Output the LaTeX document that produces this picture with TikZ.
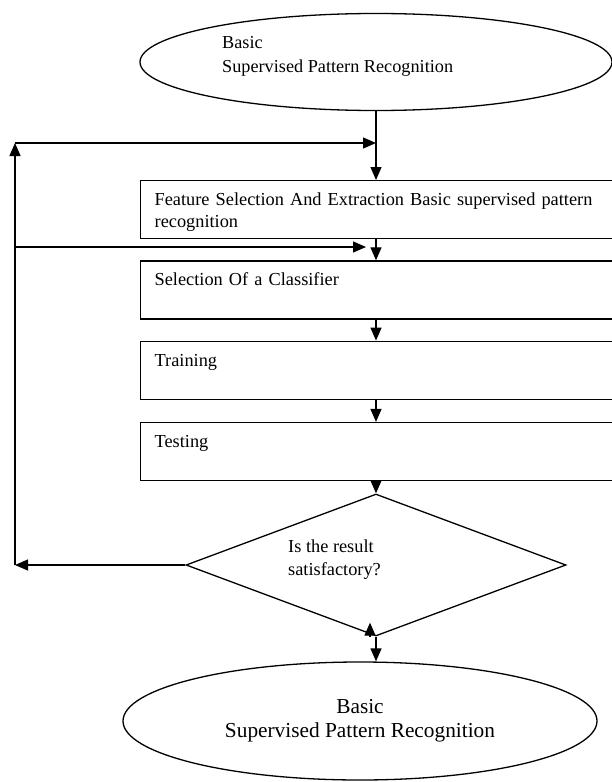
\documentclass[tikz,border=0pt]{standalone}
\usepackage{fontspec}
\setmainfont{Liberation Serif}
\usetikzlibrary{shapes.geometric,arrows.meta,positioning,calc}

\begin{document}
\begin{tikzpicture}[
    x=1bp, y=-1bp,
    every node/.style={font=\fontsize{18.4}{22}\selectfont},
    terminal/.style={ellipse, draw=black, line width=1.3bp, inner sep=0pt},
    process/.style={rectangle, draw=black, line width=1.3bp, anchor=north west, text width=472bp, align=left, inner xsep=14bp, inner ysep=0pt, text height=25bp, text depth=33bp},
    decision/.style={diamond, draw=black, line width=1.3bp, minimum width=380bp, minimum height=142bp, inner sep=0pt},
    arrow/.style={line width=1.3bp, -{Triangle[length=13bp,width=11bp]}}
]
    \useasboundingbox (0,0) rectangle (612,782);
    \clip (0,0) rectangle (612,782);

    % Start
    \node[terminal, minimum width=472bp, minimum height=97bp] (start) at (376,62) {};
    \node[anchor=west, align=left, inner sep=0pt, font=\fontsize{18.3}{24}\selectfont] (starttext) at (222,56) {Basic\\Supervised Pattern Recognition};

    % Steps
    \node[process] (feat) at (140,180) {Feature Selection And Extraction Basic supervised pattern\\recognition};
    \node[process, below=21bp of feat] (clf) {Selection Of a Classifier};
    \node[process, below=21bp of clf] (train) {Training};
    \node[process, below=22bp of train] (test) {Testing};

    % Decision
    \node[decision] (dec) at (376,565) {};
    \node[anchor=west, align=left, inner sep=0pt, font=\fontsize{18.4}{23}\selectfont] (dectext) at (288,559.5) {Is the result\\satisfactory?};

    % End
    \node[terminal, minimum width=474bp, minimum height=118bp, align=center, font=\fontsize{21.4}{24}\selectfont] (stop) at (360,721) {Basic\\Supervised Pattern Recognition};

    % Main flow
    \draw[arrow] (start.south) -- (start.south |- feat.north);
    \draw[arrow] (feat.south -| start.south) -- (clf.north -| start.south);
    \draw[arrow] (clf.south -| start.south) -- (train.north -| start.south);
    \draw[arrow] (train.south -| start.south) -- (test.north -| start.south);
    \draw[arrow] (test.south -| dec.north) -- (dec.north);
    \draw[arrow] ([xshift=-6bp]dec.south) -- ([xshift=-6bp,yshift=14bp]dec.south);
    \draw[arrow] (dec.south) -- (dec.south |- stop.north);

    % Feedback loop
    \coordinate (loopbot) at (15,0 |- dec.west);
    \coordinate (looptop) at (15,143);
    \coordinate (loopmid) at (15,247);
    \draw[arrow] (dec.west) -- (loopbot);
    \draw[arrow] (loopbot) -- (looptop);
    \draw[arrow] (looptop) -- (looptop -| start.south);
    \draw[arrow] (loopmid) -- ($(loopmid -| start.south)+(-10,0)$);

\end{tikzpicture}
\end{document}
